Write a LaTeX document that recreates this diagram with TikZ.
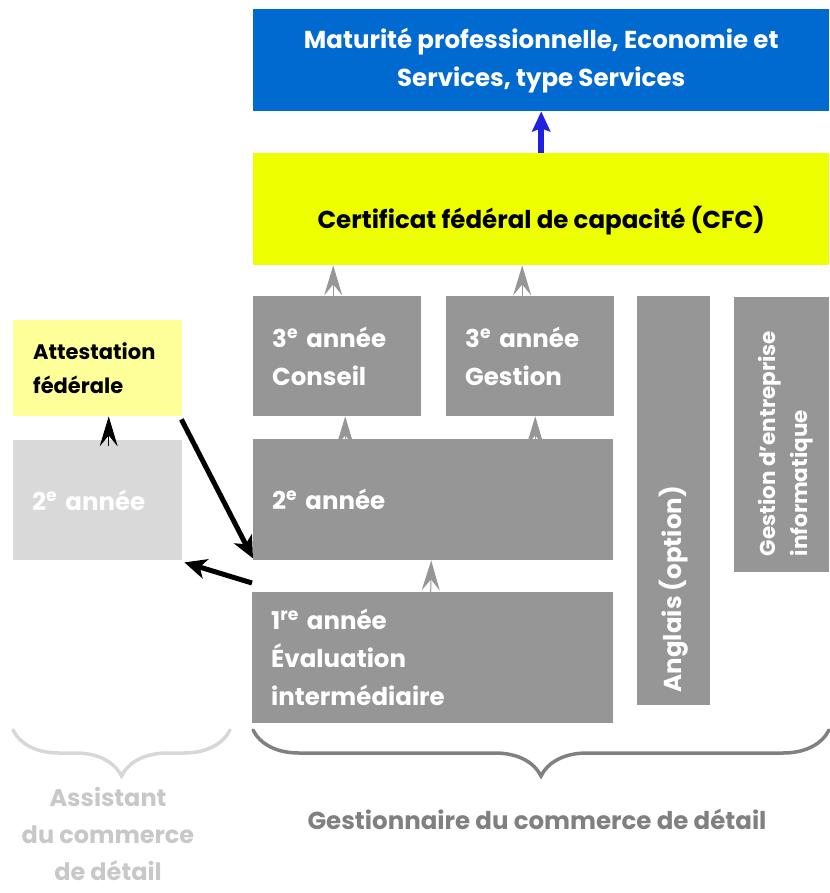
\documentclass[tikz,border=0pt]{standalone}
\usepackage{fontspec}
\setmainfont{Poppins}
\usetikzlibrary{arrows.meta,decorations.pathreplacing}
\definecolor{matblue}{RGB}{0,106,208}
\definecolor{cfcyellow}{RGB}{238,255,0}
\definecolor{attyellow}{RGB}{255,255,153}
\definecolor{boxgray}{RGB}{150,150,150}
\definecolor{lightbox}{RGB}{217,217,217}
\definecolor{arrblue}{RGB}{32,32,224}
\definecolor{bracedark}{RGB}{128,128,128}
\definecolor{bracelight}{RGB}{215,215,215}
\definecolor{asstext}{RGB}{200,200,200}
\begin{document}
\begin{tikzpicture}[x=1pt,y=-1pt,
  every node/.style={font=\fontsize{24.5}{38}\selectfont\bfseries},
  gbox/.style={fill=boxgray, draw=none, anchor=north west, inner sep=0pt, text=white, align=left},
  headbox/.style={draw=none, anchor=north west, inner sep=0pt, align=center},
  grayhead/.style={-{Stealth[length=30pt,width=18pt,inset=11pt]}, draw=boxgray, line width=1pt},
  blackhead/.style={-{Stealth[length=30pt,width=18pt,inset=11pt]}, draw=black, line width=1pt},
  thickarrow/.style={-{Stealth[length=22pt,width=20pt,inset=6pt]}, draw=black, line width=5pt},
  bracestyle/.style={decorate, decoration={brace, mirror, amplitude=46pt}, line cap=round}
]
\useasboundingbox (0,0) rectangle (829,893);

% top boxes
\node[headbox, fill=matblue, text=white, minimum width=576pt, minimum height=102pt] (mat) at (253,9)
  {Maturité professionnelle, Economie et\\Services, type Services};
\node[headbox, fill=cfcyellow, text=black, minimum width=576pt, minimum height=112pt, text height=44pt, text depth=6pt] (cfc) at (253,153)
  {Certificat fédéral de capacité (CFC)};

% third year
\node[gbox, minimum width=168pt, minimum height=120pt, text width=130pt, inner xsep=19pt] (c3c) at (253,296)
  {3\textsuperscript{e} année\\Conseil};
\node[gbox, minimum width=168pt, minimum height=120pt, text width=130pt, inner xsep=19pt] (c3g) at (446,296)
  {3\textsuperscript{e} année\\Gestion};

% options
\node[gbox, minimum width=73pt, minimum height=409pt] (ang) at (637,296) {};
\node[text=white, rotate=90, anchor=west, inner sep=0pt] (angt) at ([yshift=13pt]ang.south) {Anglais (option)};
\node[gbox, minimum width=95pt, minimum height=275pt] (gei) at (734,297) {};
\node[text=white, rotate=90, align=left, inner sep=0pt, font=\fontsize{21.5}{32}\selectfont\bfseries] (geit) at ([xshift=4pt,yshift=-9pt]gei.center) {Gestion d'entreprise\\informatique};

% second / first year
\node[gbox, minimum width=360pt, minimum height=121pt, text width=322pt, inner xsep=19pt] (y2) at (253,439)
  {2\textsuperscript{e} année};
\node[gbox, minimum width=361pt, minimum height=131pt, text width=323pt, inner xsep=19pt] (y1) at (252,592)
  {1\textsuperscript{re} année\\Évaluation\\intermédiaire};

% left column
\node[headbox, fill=attyellow, text=black, minimum width=169pt, minimum height=96pt, text width=129pt, inner xsep=20pt, align=left, font=\fontsize{21}{34}\selectfont\bfseries] (att) at (13,320)
  {Attestation\\fédérale};
\node[headbox, fill=lightbox, text=white, minimum width=169pt, minimum height=120pt, text width=131pt, inner xsep=19pt, align=left] (y2l) at (13,440)
  {2\textsuperscript{e} année};

% arrows
\draw[-{Stealth[length=20pt,width=18pt,inset=3pt]}, draw=arrblue, fill=arrblue, line width=6pt] (cfc.north) -- (mat.south);
\draw[grayhead] ([xshift=-4pt]c3c.north) -- ([xshift=-4pt]c3c.north |- cfc.south);
\draw[grayhead] ([xshift=-8pt]c3g.north) -- ([xshift=-8pt]c3g.north |- cfc.south);
\draw[grayhead] ([xshift=8pt]y2.north -| c3c.north) -- ([xshift=8pt]c3c.south);
\draw[grayhead] ([xshift=5pt]y2.north -| c3g.north) -- ([xshift=5pt]c3g.south);
\draw[grayhead] ([xshift=-2pt]y1.north) -- ([xshift=-2pt]y2.south);
\draw[blackhead] ([xshift=11pt,yshift=-6pt]y2l.north) -- ([xshift=11pt]att.south);
\draw[thickarrow] ([xshift=-1pt,yshift=-3pt]att.south east) -- ([yshift=2pt]y2.south west);
\draw[thickarrow] ([yshift=9pt]y1.north west) -- ([xshift=2pt,yshift=-2pt]y2l.south east);

% braces
\coordinate (lbl) at (13,730);
\coordinate (lbr) at (230,730);
\coordinate (rbl) at (253,730);
\coordinate (rbr) at (829,730);
\draw[bracestyle, draw=bracelight, line width=3.5pt] (lbl) -- (lbr);
\draw[bracestyle, draw=bracedark, line width=3.5pt] (rbl) -- (rbr);

% labels
\node[text=asstext, align=center, font=\fontsize{24}{37}\selectfont\bfseries, inner sep=0pt] (asst) at (108,834)
  {Assistant\\du commerce\\de détail};
\node[text=bracedark] (gest) at (537,819) {Gestionnaire du commerce de détail};
\end{tikzpicture}
\end{document}
